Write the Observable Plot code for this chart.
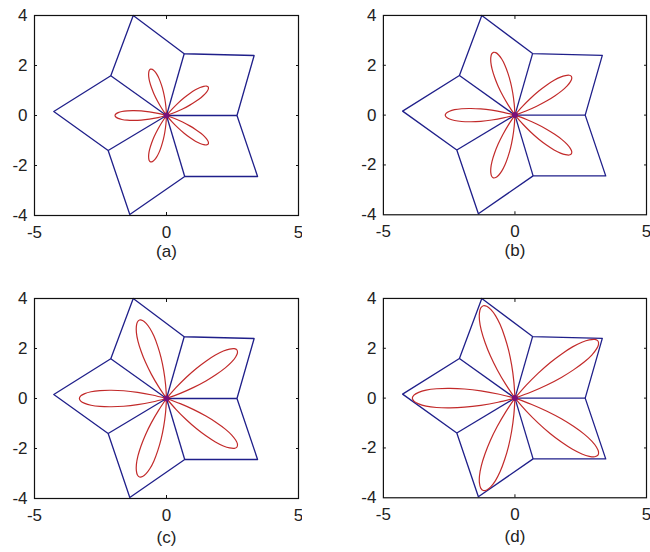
<!DOCTYPE html>
<html>
<head>
<meta charset="utf-8">
<script src="https://cdn.jsdelivr.net/npm/d3@7"></script>
<script src="https://cdn.jsdelivr.net/npm/@observablehq/plot@0.6"></script>
<style>
  html, body { margin: 0; padding: 0; background: #fff; }
  #figure { position: relative; width: 650px; height: 552px; overflow: hidden; background: #fff; }
  .panel { position: absolute; }
</style>
</head>
<body>
<div id="figure"></div>
<script>
// Panel captions
const panelLabels = ["(a)", "(b)", "(c)", "(d)"];
// Petal length of the five-petal rose in each panel
const petalLengths = [1.95, 2.65, 3.3, 3.9];
// Direction of each petal axis, degrees
const petalDirections = [36, 108, 180, 252, 324];
// Half a petal outline: angle off the petal axis (deg) and radius as a fraction of petal length
const petalOffsets = [0, 1.8, 3.6, 5.4, 7.2, 9, 10.8, 12.6, 14.4, 16.2];
const petalRadii = [1, 0.985, 0.94, 0.87, 0.77, 0.64, 0.5, 0.34, 0.17, 0];
// Star outline built from five rhombi (closed ring)
const starX = [2.67, 3.32, 0.67, -1.26, -2.11, -4.27, -2.21, -1.39, 0.69, 3.45, 2.67];
const starY = [0, 2.4, 2.47, 4.0, 1.59, 0.16, -1.4, -3.96, -2.44, -2.44, 0];
// Inner vertices joined to the origin
const spokeX = [2.67, 0.67, -2.11, -2.21, 0.69];
const spokeY = [0, 2.47, 1.59, -1.4, -2.44];
// Axis ticks
const xTicks = [-5, 0, 5];
const yTicks = [-4, -2, 0, 2, 4];
const innerXTicks = [0];
const innerYTicks = [-2, 0, 2];

const BLUE = "#1f1f8a";
const RED = "#c22a2a";
const CENTER = "#7a0f7a";

const star = starX.map((x, i) => ({x, y: starY[i]}));
const spokes = spokeX.map((x, i) => ({x, y: spokeY[i]}));

// Full petal outline: one side from the origin out to the tip, then back on the other side
const sideOffsets = [...petalOffsets].reverse().map(d => -d).concat(petalOffsets.slice(1));
const sideRadii = [...petalRadii].reverse().concat(petalRadii.slice(1));

function rose(length) {
  const pts = [];
  petalDirections.forEach((dir, k) => {
    sideOffsets.forEach((off, j) => {
      const a = (dir + off) * Math.PI / 180;
      const r = length * sideRadii[j];
      pts.push({petal: k, x: r * Math.cos(a), y: r * Math.sin(a)});
    });
  });
  return pts;
}

const layout = [
  {left: 0, top: 0, labelDy: 41},
  {left: 349, top: 0, labelDy: 41},
  {left: 0, top: 283, labelDy: 44},
  {left: 349, top: 283, labelDy: 44}
];

const fig = document.getElementById("figure");

panelLabels.forEach((label, p) => {
  const chart = Plot.plot({
    width: 302,
    height: 270,
    marginLeft: 34,
    marginRight: 4,
    marginTop: 15,
    marginBottom: 55,
    x: {domain: [-5, 5]},
    y: {domain: [-4, 4]},
    style: {
      fontFamily: "'Liberation Sans', Arial, sans-serif",
      fontSize: "17px",
      color: "#222",
      background: "transparent"
    },
    marks: [
      Plot.line(star, {x: "x", y: "y", stroke: BLUE, strokeWidth: 1.3}),
      Plot.link(spokes, {x1: () => 0, y1: () => 0, x2: "x", y2: "y", stroke: BLUE, strokeWidth: 1.3}),
      Plot.line(rose(petalLengths[p]), {x: "x", y: "y", z: "petal", stroke: RED, strokeWidth: 1.2, curve: "catmull-rom"}),
      Plot.dot([0], {x: () => 0, y: () => 0, r: 3, fill: CENTER, stroke: "none"}),
      Plot.frame({stroke: "#111", strokeWidth: 1.2}),
      Plot.axisX({ticks: xTicks, tickSize: 0, tickPadding: 10, tickFormat: d => String(d), label: null}),
      Plot.axisX({anchor: "bottom", ticks: innerXTicks, tickSize: -3, text: null, label: null, stroke: "#111"}),
      Plot.axisX({anchor: "top", ticks: innerXTicks, tickSize: -3, text: null, label: null, stroke: "#111"}),
      Plot.axisY({ticks: yTicks, tickSize: 0, tickPadding: 7, tickFormat: d => String(d), label: null}),
      Plot.axisY({anchor: "left", ticks: innerYTicks, tickSize: -3, text: null, label: null, stroke: "#111"}),
      Plot.axisY({anchor: "right", ticks: innerYTicks, tickSize: -3, text: null, label: null, stroke: "#111"}),
      Plot.text([label], {frameAnchor: "bottom", dy: layout[p].labelDy, fontSize: 17, fill: "#222"})
    ]
  });
  const div = document.createElement("div");
  div.className = "panel";
  div.style.left = layout[p].left + "px";
  div.style.top = layout[p].top + "px";
  div.appendChild(chart);
  fig.appendChild(div);
});
</script>
</body>
</html>
